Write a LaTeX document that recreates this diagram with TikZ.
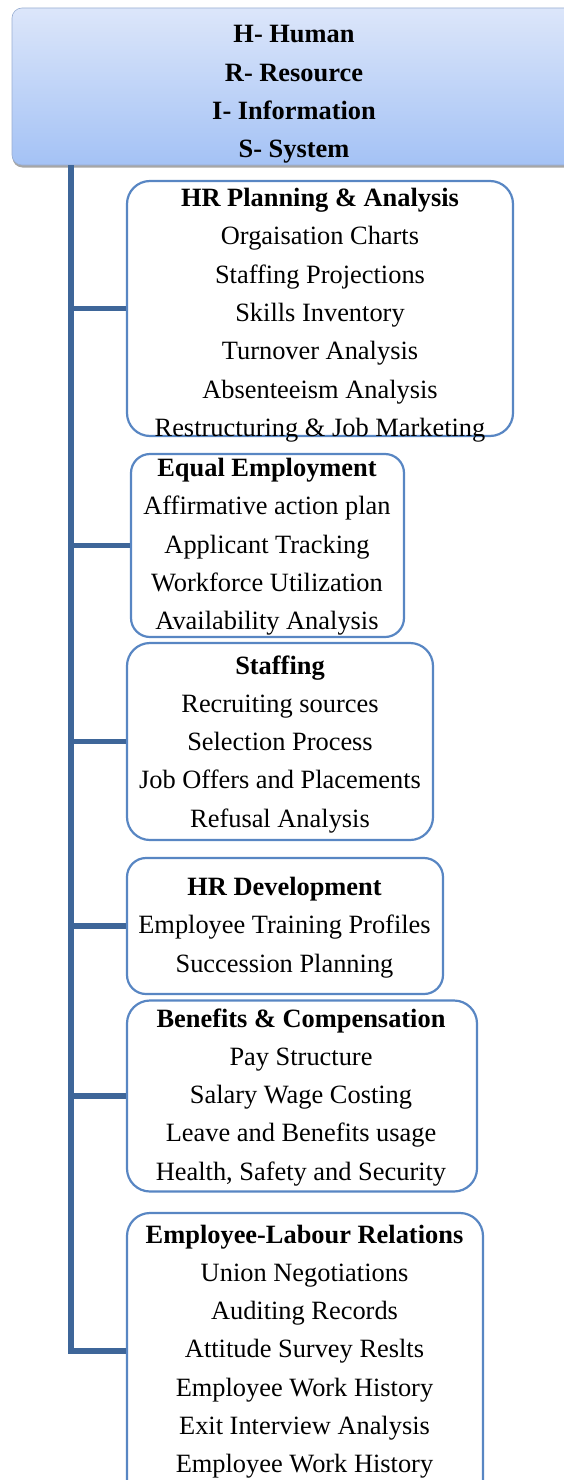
\documentclass[tikz,border=0pt]{standalone}
\usepackage{fontspec}
\setmainfont{Liberation Serif}
\usetikzlibrary{shadows}
\definecolor{boxblue}{HTML}{5886C3}
\definecolor{trunkblue}{HTML}{3E6699}
\definecolor{topA}{HTML}{DCE6FA}
\definecolor{topB}{HTML}{A4C2F5}
\tikzset{
  itembox/.style={draw=boxblue, line width=2.2pt, rounded corners=23pt, fill=white, inner sep=0pt},
  item/.style={font=\fontsize{26.4}{30}\selectfont, anchor=base, inner sep=0pt},
  head/.style={item, font=\fontsize{26.4}{30}\selectfont\bfseries},
  branch/.style={draw=trunkblue, line width=5.5pt},
}
\newcommand{\mkitems}[5]{%
  \node[head] (#1-0) at (#2pt,-#3pt) {#4};
  \foreach \t [count=\i] in {#5} \node[item] (#1-\i) at (#2pt,{-#3pt-\i*38.3pt}) {\t};
}
\begin{document}
\begin{tikzpicture}
\useasboundingbox (0,0) rectangle (563pt,-1480pt);
% top box
\node[rounded corners=10pt, top color=topA, bottom color=topB, draw=topB!70!gray, line width=0.6pt,
  minimum width=563pt, minimum height=157pt, inner sep=0pt,
  drop shadow={shadow xshift=0.5pt, shadow yshift=-2.5pt, opacity=0.35, fill=black}]
  (top) at (293.5pt,-86.5pt) {};
\node[head] (h1) at (294pt,-43pt) {H- Human};
\node[head] (h2) at (294pt,-81.3pt) {R- Resource};
\node[head] (h3) at (294pt,-119.6pt) {I- Information};
\node[head] (h4) at (294pt,-157.9pt) {S- System};
% boxes
\node[itembox, minimum width=386pt, minimum height=255pt] (b1) at (320pt,-308.5pt) {};
\node[itembox, minimum width=273pt, minimum height=183pt, rounded corners=19pt] (b2) at (267.5pt,-545.5pt) {};
\node[itembox, minimum width=306pt, minimum height=197pt] (b3) at (280pt,-741.5pt) {};
\node[itembox, minimum width=316pt, minimum height=136pt, rounded corners=19pt] (b4) at (285pt,-926pt) {};
\node[itembox, minimum width=350pt, minimum height=191pt] (b5) at (302pt,-1096pt) {};
\node[itembox, minimum width=356pt, minimum height=290pt] (b6) at (305pt,-1358pt) {};
% trunk and branches
\coordinate (tb) at (71pt,-1351pt);
\draw[branch] (top.south -| tb) -- (tb) -- (tb -| b6.west);
\foreach \b in {b1,b2,b3,b4,b5} \draw[branch] (tb |- \b.west) -- (\b.west);
% texts
\mkitems{b1}{320}{206.5}{HR Planning \& Analysis}{Orgaisation Charts, Staffing Projections, Skills Inventory, Turnover Analysis, Absenteeism Analysis, Restructuring \& Job Marketing}
\mkitems{b2}{267}{476.5}{Equal Employment}{Affirmative action plan, Applicant Tracking, Workforce Utilization, Availability Analysis}
\mkitems{b3}{280}{674}{Staffing}{Recruiting sources, Selection Process, Job Offers and Placements, Refusal Analysis}
\mkitems{b4}{284.5}{895.5}{HR Development}{Employee Training Profiles, Succession Planning}
\mkitems{b5}{301}{1027}{Benefits \& Compensation}{Pay Structure, Salary Wage Costing, Leave and Benefits usage, {Health, Safety and Security}}
\mkitems{b6}{304.5}{1243}{Employee-Labour Relations}{Union Negotiations, Auditing Records, Attitude Survey Reslts, Employee Work History, Exit Interview Analysis, Employee Work History}
\end{tikzpicture}
\end{document}
